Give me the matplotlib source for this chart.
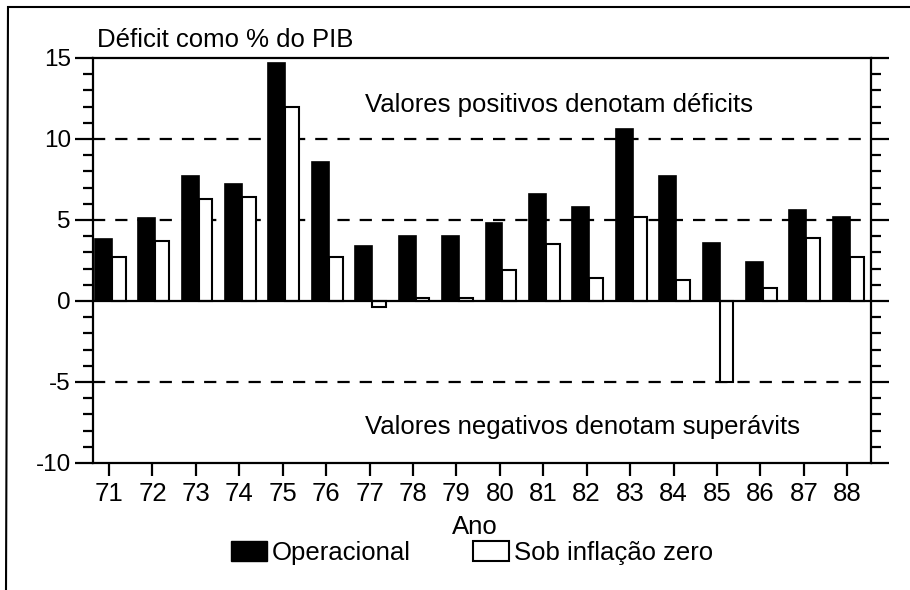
import numpy as np
import matplotlib.pyplot as plt
from matplotlib.patches import Patch
from matplotlib.lines import Line2D
from matplotlib.ticker import MultipleLocator

plt.rcParams['font.family'] = ['Liberation Sans', 'DejaVu Sans']

anos = np.arange(71, 89)
operacional = [3.8, 5.1, 7.7, 7.2, 14.7, 8.6, 3.4, 4.0, 4.0,
               4.8, 6.6, 5.8, 10.6, 7.7, 3.6, 2.4, 5.6, 5.2]
inflacao_zero = [2.7, 3.7, 6.3, 6.4, 12.0, 2.7, -0.4, 0.2, 0.2,
                 1.9, 3.5, 1.4, 5.2, 1.3, -5.0, 0.8, 3.9, 2.7]
tick_labels = [str(a) for a in anos]

FS = 18.5
fig = plt.figure(figsize=(9.1, 5.9), dpi=100)
ax = fig.add_axes([0.1022, 0.2153, 0.855, 0.6864])

wb, ww, shift = 0.39, 0.32, 0.06
ax.bar(anos + shift - wb / 2, operacional, width=wb, color="black",
       edgecolor="black", linewidth=1.2, zorder=3)
ax.bar(anos + shift + ww / 2, inflacao_zero, width=ww, color="white",
       edgecolor="black", linewidth=1.5, zorder=3)

for y in (10, 5, -5):
    ax.axhline(y, color="black", lw=1.6, ls=(0, (5.5, 4.5)), zorder=1)
ax.axhline(0, color="black", lw=1.6, zorder=4)

ax.set_xlim(70.63, 88.55)
ax.set_ylim(-10, 15)
ax.set_xticks(anos)
ax.set_xticklabels(tick_labels)
ax.set_yticks([-10, -5, 0, 5, 10, 15])
ax.set_yticklabels(["-10", "-5", "0", "5", "10", "15"])
ax.yaxis.set_minor_locator(MultipleLocator(1))

for s in ax.spines.values():
    s.set_linewidth(1.6)

ax.tick_params(axis="y", which="major", direction="out", length=13, width=1.6,
               right=True, labelsize=FS - 1, pad=3)
ax.tick_params(axis="y", which="minor", direction="out", length=7, width=1.6,
               right=True)
ax.tick_params(axis="x", direction="out", length=9, width=1.6,
               labelsize=FS, pad=5)

ax.text(0.35, 12.1, "Valores positivos denotam déficits", fontsize=FS,
        va="center", ha="left", transform=ax.get_yaxis_transform())
ax.text(0.35, -7.8, "Valores negativos denotam superávits", fontsize=FS,
        va="center", ha="left", transform=ax.get_yaxis_transform())

fig.text(97 / 910, 1 - 47 / 590, "Déficit como % do PIB", fontsize=FS,
         va="baseline", ha="left")
fig.text(475 / 910, 1 - 527 / 590, "Ano", fontsize=FS, va="center", ha="center")

handles = [Patch(facecolor="black", edgecolor="black", label="Operacional"),
           Patch(facecolor="white", edgecolor="black", linewidth=1.5,
                 label="Sob inflação zero")]
fig.legend(handles=handles, loc="upper left", bbox_to_anchor=(231 / 910, 1 - 541 / 590),
           ncol=2, frameon=False, fontsize=FS, handlelength=1.4, handleheight=0.78,
           handletextpad=0.2, columnspacing=2.4, borderpad=0, borderaxespad=0)

# page frame
fig.add_artist(Line2D([10 / 910, 1], [1 - 7 / 590, 1 - 7 / 590], color="black", lw=1.5))
fig.add_artist(Line2D([8 / 910, 6 / 910], [1 - 7 / 590, 0], color="black", lw=1.5))

fig.savefig("out.png", dpi=100)
